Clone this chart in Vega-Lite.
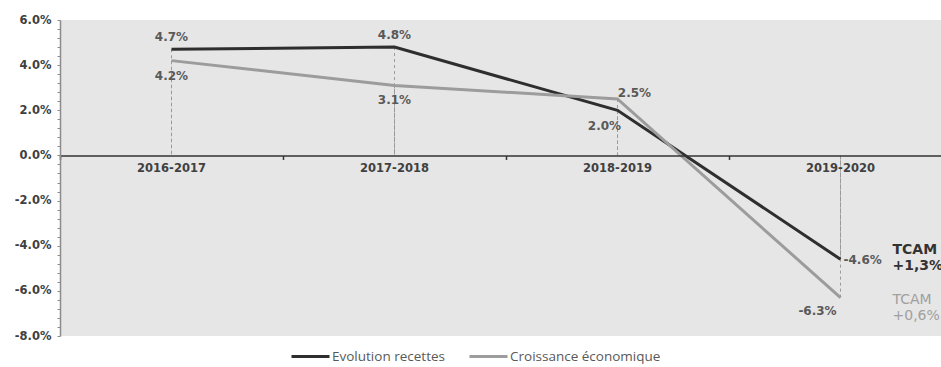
{
  "$schema": "https://vega.github.io/schema/vega-lite/v6.json",
  "width": 881,
  "height": 316,
  "autosize": {"type": "none"},
  "padding": {"left": 60, "top": 20, "right": 0, "bottom": 31},
  "background": "white",
  "config": {
    "view": {"fill": "#e6e6e6", "stroke": null},
    "axis": {"grid": false},
    "locale": {"number": {"decimal": ".", "thousands": ",", "grouping": [3], "currency": ["", ""], "minus": "-"}}
  },
  "data": {
    "values": [
      {"cat": "2016-2017", "series": "Evolution recettes", "value": 0.047},
      {"cat": "2017-2018", "series": "Evolution recettes", "value": 0.048},
      {"cat": "2018-2019", "series": "Evolution recettes", "value": 0.020},
      {"cat": "2019-2020", "series": "Evolution recettes", "value": -0.046},
      {"cat": "2016-2017", "series": "Croissance économique", "value": 0.042},
      {"cat": "2017-2018", "series": "Croissance économique", "value": 0.031},
      {"cat": "2018-2019", "series": "Croissance économique", "value": 0.025},
      {"cat": "2019-2020", "series": "Croissance économique", "value": -0.063}
    ]
  },
  "encoding": {
    "x": {
      "field": "cat",
      "type": "ordinal",
      "sort": null,
      "scale": {"type": "band", "range": [0, 892], "paddingInner": 0, "paddingOuter": 0},
      "axis": {
        "title": null,
        "labels": false,
        "bandPosition": 0,
        "offset": -180.57,
        "domainColor": "#333333",
        "domainWidth": 1.5,
        "tickColor": "#333333",
        "tickSize": 4,
        "tickWidth": 1.5,
        "zindex": 1
      }
    }
  },
  "layer": [
    {
      "mark": {"type": "rule", "color": "#9a9a9a", "strokeDash": [3, 3], "strokeWidth": 1},
      "encoding": {
        "y": {
          "aggregate": "max",
          "field": "value",
          "type": "quantitative",
          "scale": {"domain": [-0.08, 0.06], "nice": false, "zero": false},
          "axis": {
            "title": null,
            "values": [-0.08, -0.076, -0.072, -0.068, -0.064, -0.06, -0.056, -0.052, -0.048, -0.044, -0.04, -0.036, -0.032, -0.028, -0.024, -0.02, -0.016, -0.012, -0.008, -0.004, 0, 0.004, 0.008, 0.012, 0.016, 0.02, 0.024, 0.028, 0.032, 0.036, 0.04, 0.044, 0.048, 0.052, 0.056, 0.06],
            "tickCount": 100,
            "labelExpr": "abs(round(datum.value * 1000)) % 20 == 0 ? format(datum.value, '.1%') : ''",
            "labelOverlap": false,
            "labelFont": "DejaVu Sans",
            "labelFontWeight": "bold",
            "labelFontSize": 11.5,
            "labelColor": "#404040",
            "labelPadding": 6,
            "domainColor": "#8c8c8c",
            "domainWidth": 1.5,
            "tickColor": "#8c8c8c",
            "tickSize": 3,
            "zindex": 1
          }
        },
        "y2": {"datum": 0}
      }
    },
    {
      "mark": {"type": "rule", "color": "#9a9a9a", "strokeDash": [3, 3], "strokeWidth": 1},
      "encoding": {
        "y": {"aggregate": "min", "field": "value", "type": "quantitative"},
        "y2": {"datum": 0}
      }
    },
    {
      "mark": {"type": "line", "strokeWidth": 3},
      "encoding": {
        "y": {"field": "value", "type": "quantitative"},
        "color": {
          "field": "series",
          "type": "nominal",
          "scale": {"domain": ["Evolution recettes", "Croissance économique"], "range": ["#2e2e2e", "#9c9c9c"]},
          "legend": {
            "orient": "none",
            "legendX": 230,
            "legendY": 316,
            "direction": "horizontal",
            "title": null,
            "symbolType": "stroke",
            "symbolStrokeWidth": 3,
            "symbolSize": 1444,
            "labelFont": "Open Sans",
            "labelFontSize": 13.5,
            "labelColor": "#595959",
            "labelOffset": 1,
            "columnPadding": 18
          }
        }
      }
    },
    {
      "transform": [{"filter": "datum.series == 'Evolution recettes'"}],
      "mark": {"type": "text", "font": "DejaVu Sans", "fontWeight": "bold", "fontSize": 11.5, "color": "#404040", "baseline": "top", "dy": 8},
      "encoding": {
        "y": {"datum": 0},
        "text": {"field": "cat"}
      }
    },
    {
      "transform": [{"filter": "datum.series == 'Evolution recettes' && (datum.cat == '2016-2017' || datum.cat == '2017-2018')"}],
      "mark": {"type": "text", "font": "DejaVu Sans", "fontWeight": "bold", "fontSize": 12, "color": "#595959", "baseline": "middle", "dy": -12},
      "encoding": {
        "y": {"field": "value", "type": "quantitative"},
        "text": {"field": "value", "format": ".1%"}
      }
    },
    {
      "transform": [{"filter": "datum.series == 'Croissance économique' && (datum.cat == '2016-2017' || datum.cat == '2017-2018')"}],
      "mark": {"type": "text", "font": "DejaVu Sans", "fontWeight": "bold", "fontSize": 12, "color": "#595959", "baseline": "middle", "dy": 15},
      "encoding": {
        "y": {"field": "value", "type": "quantitative"},
        "text": {"field": "value", "format": ".1%"}
      }
    },
    {
      "transform": [{"filter": "datum.series == 'Evolution recettes' && datum.cat == '2018-2019'"}],
      "mark": {"type": "text", "font": "DejaVu Sans", "fontWeight": "bold", "fontSize": 12, "color": "#595959", "baseline": "middle", "dx": -13, "dy": 16},
      "encoding": {
        "y": {"field": "value", "type": "quantitative"},
        "text": {"field": "value", "format": ".1%"}
      }
    },
    {
      "transform": [{"filter": "datum.series == 'Croissance économique' && datum.cat == '2018-2019'"}],
      "mark": {"type": "text", "font": "DejaVu Sans", "fontWeight": "bold", "fontSize": 12, "color": "#595959", "baseline": "middle", "dx": 17, "dy": -6},
      "encoding": {
        "y": {"field": "value", "type": "quantitative"},
        "text": {"field": "value", "format": ".1%"}
      }
    },
    {
      "transform": [{"filter": "datum.series == 'Evolution recettes' && datum.cat == '2019-2020'"}],
      "mark": {"type": "text", "font": "DejaVu Sans", "fontWeight": "bold", "fontSize": 12, "color": "#595959", "baseline": "middle", "align": "left", "dx": 3, "dy": 1},
      "encoding": {
        "y": {"field": "value", "type": "quantitative"},
        "text": {"field": "value", "format": ".1%"}
      }
    },
    {
      "transform": [{"filter": "datum.series == 'Croissance économique' && datum.cat == '2019-2020'"}],
      "mark": {"type": "text", "font": "DejaVu Sans", "fontWeight": "bold", "fontSize": 12, "color": "#595959", "baseline": "middle", "dx": -23, "dy": 13},
      "encoding": {
        "y": {"field": "value", "type": "quantitative"},
        "text": {"field": "value", "format": ".1%"}
      }
    },
    {
      "transform": [{"filter": "datum.series == 'Evolution recettes' && datum.cat == '2019-2020'"}],
      "mark": {"type": "text", "text": ["TCAM", "+1,3%"], "lineHeight": 16, "font": "DejaVu Sans", "fontWeight": "bold", "fontSize": 14, "color": "#333333", "baseline": "middle", "align": "left", "dx": 52, "dy": -9},
      "encoding": {
        "y": {"field": "value", "type": "quantitative"}
      }
    },
    {
      "transform": [{"filter": "datum.series == 'Croissance économique' && datum.cat == '2019-2020'"}],
      "mark": {"type": "text", "text": ["TCAM", "+0,6%"], "lineHeight": 16, "font": "DejaVu Sans", "fontSize": 14, "color": "#a0a0a0", "baseline": "middle", "align": "left", "dx": 52, "dy": 2},
      "encoding": {
        "y": {"field": "value", "type": "quantitative"}
      }
    }
  ]
}
